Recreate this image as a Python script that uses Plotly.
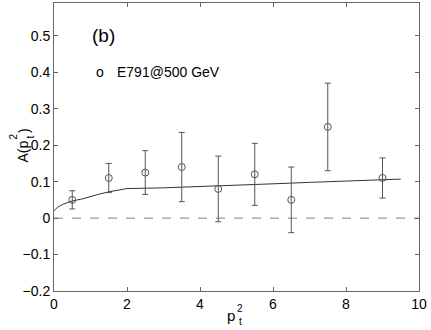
import plotly.graph_objects as go

# measured points (E791 @ 500 GeV)
pt2 = [0.5, 1.5, 2.5, 3.5, 4.5, 5.5, 6.5, 7.5, 9.0]
asym = [0.05, 0.11, 0.125, 0.14, 0.08, 0.12, 0.05, 0.25, 0.11]
err = [0.025, 0.04, 0.06, 0.095, 0.09, 0.085, 0.09, 0.12, 0.055]

# model curve
curve_x = [0, 0.1, 0.25, 0.5, 0.75, 1.0, 1.25, 1.5, 1.75, 2.0, 3.0, 4.0, 5.0, 6.0, 7.0, 8.0, 9.0, 9.5]
curve_y = [0.02, 0.03, 0.038, 0.047, 0.052, 0.06, 0.066, 0.072, 0.076, 0.081, 0.083, 0.086, 0.09, 0.094, 0.098, 0.101, 0.105, 0.107]

font = "Liberation Sans, Arial, Helvetica, sans-serif"
axcol = "#666666"

fig = go.Figure()
fig.add_trace(go.Scatter(x=[0, 10], y=[0, 0], mode="lines",
                         line=dict(color="#999999", width=1.3, dash="dash"),
                         showlegend=False, hoverinfo="skip"))
fig.add_trace(go.Scatter(x=curve_x, y=curve_y, mode="lines",
                         line=dict(color="#333333", width=1),
                         showlegend=False))
fig.add_trace(go.Scatter(
    x=pt2, y=asym, mode="markers",
    marker=dict(symbol="circle-open", size=7, color="#555555", line=dict(width=1)),
    error_y=dict(type="data", array=err, color="#555555", thickness=1, width=3),
    showlegend=False))

fig.add_annotation(x=0.98, y=0.5, text="(b)", showarrow=False, xanchor="left",
                   font=dict(size=19, color="black", family=font))
fig.add_annotation(x=1.25, y=0.4, text="o", showarrow=False,
                   font=dict(size=14, color="black", family=font))
fig.add_annotation(x=1.66, y=0.4, text="E791@500 GeV", showarrow=False, xanchor="left",
                   font=dict(size=14, color="black", family=font))


def label(text, x, y, size, angle=0, yanchor="middle"):
    fig.add_annotation(x=x, y=y, xref="paper", yref="paper", text=text, showarrow=False,
                       textangle=angle, yanchor=yanchor,
                       font=dict(size=size, color="black", family=font))


# x title: p with stacked 2 / t
label("p", 0.486, -0.05, 15, yanchor="top")
label("2", 0.51, -0.036, 10, yanchor="top")
label("t", 0.51, -0.08, 10, yanchor="top")

# y title: A(p  ) with stacked 2 / t
label("A(p", -0.111, 0.486, 14, angle=-90)
label("2", -0.1315, 0.535, 10, angle=-90)
label("t", -0.085, 0.535, 10, angle=-90)
label(")", -0.111, 0.557, 14, angle=-90)

fig.update_xaxes(range=[0, 10], tickvals=[0, 2, 4, 6, 8, 10], ticks="inside", ticklen=4,
                 tickcolor=axcol, showline=True, linecolor=axcol, linewidth=1, mirror="ticks",
                 showgrid=False, zeroline=False, automargin=False,
                 tickfont=dict(size=14, color="black", family=font))
fig.update_yaxes(range=[-0.2, 0.59], tickvals=[-0.2, -0.1, 0, 0.1, 0.2, 0.3, 0.4, 0.5],
                 ticktext=["\u22120.2", "\u22120.1", "0", "0.1", "0.2", "0.3", "0.4", "0.5"],
                 ticks="inside", ticklen=4,
                 tickcolor=axcol, showline=True, linecolor=axcol, linewidth=1, mirror="ticks",
                 showgrid=False, zeroline=False, automargin=False,
                 tickfont=dict(size=14, color="black", family=font))

fig.update_layout(width=431, height=330, margin=dict(l=54, r=12, t=3, b=39),
                  plot_bgcolor="white", paper_bgcolor="white", font=dict(family=font))
fig.write_html("out.html", config={"displayModeBar": False},
               post_script="document.body.style.margin='0';")
